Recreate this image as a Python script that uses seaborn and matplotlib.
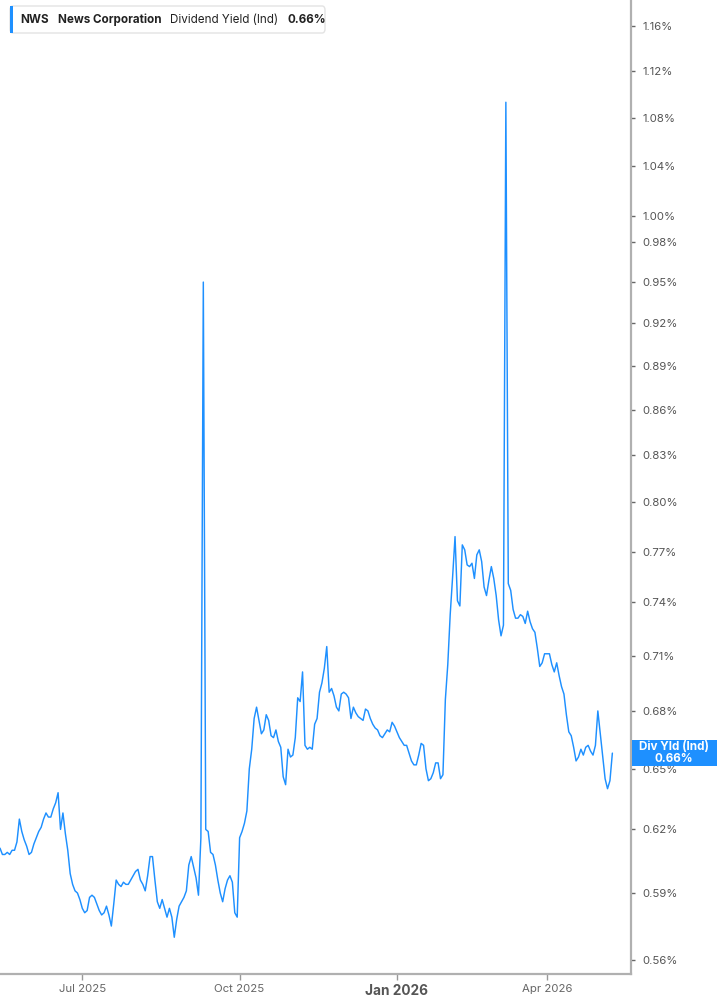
import numpy as np
import pandas as pd
import matplotlib
matplotlib.use("Agg")
import matplotlib.pyplot as plt
import seaborn as sns
from matplotlib.ticker import FixedLocator, NullLocator, FuncFormatter
from matplotlib.patches import FancyBboxPatch, Rectangle

# ---------------- data ----------------
yield_pct = [
    0.611, 0.608, 0.608, 0.609, 0.608, 0.610, 0.610, 0.614, 0.625, 0.619,
    0.615, 0.612, 0.608, 0.609, 0.613, 0.616, 0.619, 0.621, 0.625, 0.628,
    0.626, 0.626, 0.630, 0.633, 0.638, 0.620, 0.628, 0.618, 0.610, 0.599,
    0.594, 0.591, 0.590, 0.587, 0.583, 0.581, 0.582, 0.588, 0.589, 0.588,
    0.585, 0.582, 0.580, 0.581, 0.584, 0.580, 0.575, 0.585, 0.596, 0.594,
    0.593, 0.595, 0.594, 0.594, 0.596, 0.598, 0.600, 0.601, 0.596, 0.594,
    0.591, 0.598, 0.607, 0.607, 0.596, 0.586, 0.583, 0.587, 0.583, 0.579,
    0.583, 0.579, 0.570, 0.578, 0.584, 0.586, 0.588, 0.591, 0.603, 0.607,
    0.602, 0.597, 0.589, 0.616, 0.950, 0.620, 0.619, 0.609, 0.608, 0.603,
    0.596, 0.590, 0.586, 0.592, 0.596, 0.598, 0.595, 0.581, 0.579, 0.616,
    0.619, 0.623, 0.629, 0.650, 0.660, 0.676, 0.682, 0.675, 0.668, 0.670,
    0.678, 0.675, 0.667, 0.666, 0.670, 0.664, 0.661, 0.646, 0.642, 0.660,
    0.656, 0.657, 0.666, 0.687, 0.685, 0.701, 0.662, 0.660, 0.661, 0.660,
    0.673, 0.676, 0.690, 0.695, 0.703, 0.715, 0.690, 0.692, 0.688, 0.682,
    0.680, 0.689, 0.690, 0.689, 0.687, 0.676, 0.682, 0.679, 0.677, 0.676,
    0.675, 0.681, 0.680, 0.676, 0.673, 0.671, 0.670, 0.667, 0.666, 0.668,
    0.670, 0.669, 0.674, 0.672, 0.669, 0.666, 0.664, 0.662, 0.662, 0.658,
    0.654, 0.652, 0.652, 0.657, 0.663, 0.662, 0.650, 0.644, 0.645, 0.648,
    0.653, 0.653, 0.645, 0.647, 0.686, 0.705, 0.733, 0.755, 0.779, 0.741,
    0.738, 0.774, 0.771, 0.762, 0.761, 0.763, 0.754, 0.768, 0.771, 0.764,
    0.749, 0.744, 0.753, 0.761, 0.754, 0.744, 0.730, 0.721, 0.727, 1.093,
    0.751, 0.747, 0.736, 0.731, 0.731, 0.733, 0.732, 0.728, 0.735, 0.729,
    0.725, 0.723, 0.714, 0.704, 0.706, 0.711, 0.711, 0.711, 0.705, 0.701,
    0.706, 0.699, 0.693, 0.689, 0.678, 0.669, 0.667, 0.661, 0.654, 0.656,
    0.660, 0.657, 0.661, 0.662, 0.659, 0.657, 0.662, 0.680, 0.668, 0.656,
    0.645, 0.640, 0.644, 0.658,
]
market_holidays = [
    "2025-05-26", "2025-06-19", "2025-07-04", "2025-12-25",
    "2026-01-01", "2026-01-19", "2026-04-03",
]
end_date = "2026-05-11"
y_ticks = [0.56, 0.59, 0.62, 0.65, 0.68, 0.71, 0.74, 0.77, 0.80, 0.83,
           0.86, 0.89, 0.92, 0.95, 0.98, 1.00, 1.04, 1.08, 1.12, 1.16]
x_tick_months = ["2025-07-01", "2025-10-01", "2026-01-01", "2026-04-01"]
x_tick_labels = ["Jul 2025", "Oct 2025", "Jan 2026", "Apr 2026"]
ticker_symbol = "NWS"
company = "News Corporation"
metric = "Dividend Yield (Ind)"
badge_title = "Div Yld (Ind)"

# ---------------- frame ----------------
dates = pd.bdate_range(end=end_date, periods=len(yield_pct), freq="C",
                       holidays=market_holidays)
df = pd.DataFrame({"idx": np.arange(len(dates)), "date": dates, "yield": yield_pct})

sns.set_theme(style="white")
plt.rcParams["font.family"] = ["Inter", "DejaVu Sans"]

W, H = 717, 1005
fig = plt.figure(figsize=(W / 100, H / 100), dpi=100)
ax = fig.add_axes([0, 31 / H, 631 / W, 1 - 31 / H])

blue = "#1E90FF"
sns.lineplot(data=df, x="idx", y="yield", ax=ax, color=blue, linewidth=1.05)

ax.set_yscale("log")
ax.set_ylim(0.5539, 1.1837)
ax.set_xlim(0, 260.7)

# y axis on right
ax.yaxis.tick_right()
ax.yaxis.set_major_locator(FixedLocator(y_ticks))
ax.yaxis.set_minor_locator(NullLocator())
ax.yaxis.set_major_formatter(FuncFormatter(lambda v, p: f"{v:.2f}%"))
ax.tick_params(axis="y", which="major", direction="out", length=3, width=1,
               color="#666666", labelsize=8.2, labelcolor="#555555", pad=5,
               right=True, left=False)

# x ticks at first trading day of month
tick_pos = [int(np.searchsorted(dates.values, np.datetime64(m))) for m in x_tick_months]
ax.set_xticks(tick_pos)
ax.set_xticklabels(x_tick_labels)
ax.xaxis.set_minor_locator(NullLocator())
ax.tick_params(axis="x", which="major", direction="out", length=4, width=1,
               color="#999999", labelsize=8.2, labelcolor="#666666", pad=3,
               bottom=True)
for lab in ax.get_xticklabels():
    if lab.get_text().startswith("Jan"):
        lab.set_fontweight("bold")
        lab.set_fontsize(9.8)
        lab.set_color("#555555")

ax.set_xlabel("")
ax.set_ylabel("")
ax.grid(False)
for s in ["left", "top"]:
    ax.spines[s].set_visible(False)
for s in ["right", "bottom"]:
    ax.spines[s].set_color("#b0b0b0")
    ax.spines[s].set_linewidth(1.6)

# ---------------- header legend ----------------
def fx(px):
    return px / W

def fy(py_top):
    return 1 - py_top / H

box = FancyBboxPatch((fx(10), fy(33)), fx(315), 27 / H,
                     boxstyle="round,pad=0,rounding_size=0.004",
                     transform=fig.transFigure, facecolor="white",
                     edgecolor="#e3e3e3", linewidth=1.0, zorder=5)
fig.add_artist(box)
fig.add_artist(Rectangle((fx(10), fy(33)), fx(3), 27 / H, transform=fig.transFigure,
                         facecolor=blue, edgecolor="none", zorder=6))
last_val = yield_pct[-1]
hy = fy(20)
hdr = dict(va="center", ha="left", fontsize=8.4, color="#222222", zorder=7)
fig.canvas.draw()
renderer = fig.canvas.get_renderer()
xcur = 20
for txt, wt in [(ticker_symbol, "bold"), (company, "bold"),
                (metric, "normal"), (f"{last_val:.2f}%", "bold")]:
    t = fig.text(fx(xcur), hy, txt, fontweight=wt, **hdr)
    w = t.get_window_extent(renderer=renderer).width
    xcur += w + 9

# ---------------- last value badge ----------------
_, ypix = ax.transData.transform((0, last_val))
badge_h = 26
fig.add_artist(Rectangle((fx(632), (ypix - badge_h / 2) / H), fx(W - 632), badge_h / H,
                         transform=fig.transFigure, facecolor=blue,
                         edgecolor="none", zorder=6))
fig.text(fx(674), (ypix + 6.5) / H, badge_title, ha="center", va="center",
         fontsize=8.4, fontweight="bold", color="white", zorder=7)
fig.text(fx(674), (ypix - 6) / H, f"{last_val:.2f}%", ha="center", va="center",
         fontsize=8.4, fontweight="bold", color="white", zorder=7)

fig.savefig("out.png", dpi=100)
